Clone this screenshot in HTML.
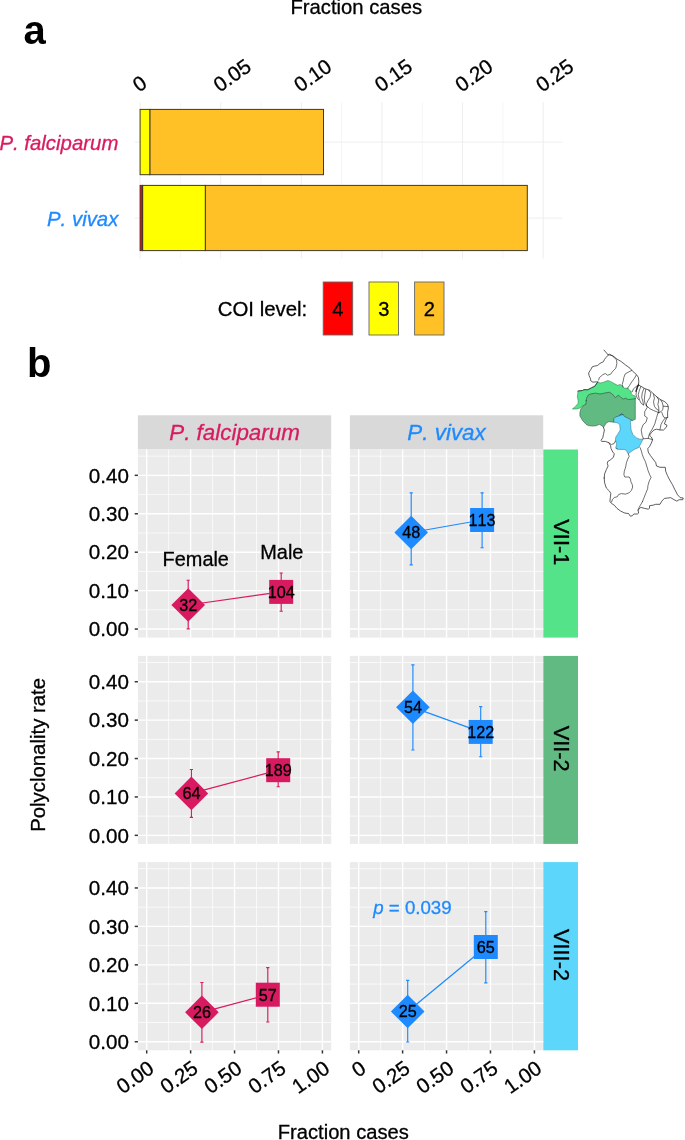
<!DOCTYPE html>
<html><head><meta charset="utf-8"><title>Figure</title>
<style>html,body{margin:0;padding:0;background:#fff}svg{display:block;will-change:transform;opacity:0.9999}text{font-family:"Liberation Sans", sans-serif;fill:#000;font-kerning:none;stroke:#000;stroke-width:0.3px}</style>
</head><body>
<svg width="685" height="1140" viewBox="0 0 685 1140" font-family='"Liberation Sans", sans-serif'>
<rect width="685" height="1140" fill="#fff"/>
<line x1="140.10" y1="102.3" x2="140.10" y2="258.6" stroke="#ececec" stroke-width="0.9"/>
<line x1="180.41" y1="102.3" x2="180.41" y2="258.6" stroke="#ececec" stroke-width="0.5"/>
<line x1="220.72" y1="102.3" x2="220.72" y2="258.6" stroke="#ececec" stroke-width="0.9"/>
<line x1="261.03" y1="102.3" x2="261.03" y2="258.6" stroke="#ececec" stroke-width="0.5"/>
<line x1="301.34" y1="102.3" x2="301.34" y2="258.6" stroke="#ececec" stroke-width="0.9"/>
<line x1="341.65" y1="102.3" x2="341.65" y2="258.6" stroke="#ececec" stroke-width="0.5"/>
<line x1="381.96" y1="102.3" x2="381.96" y2="258.6" stroke="#ececec" stroke-width="0.9"/>
<line x1="422.27" y1="102.3" x2="422.27" y2="258.6" stroke="#ececec" stroke-width="0.5"/>
<line x1="462.58" y1="102.3" x2="462.58" y2="258.6" stroke="#ececec" stroke-width="0.9"/>
<line x1="502.89" y1="102.3" x2="502.89" y2="258.6" stroke="#ececec" stroke-width="0.5"/>
<line x1="543.20" y1="102.3" x2="543.20" y2="258.6" stroke="#ececec" stroke-width="0.9"/>
<line x1="134.5" y1="142.1" x2="562.6" y2="142.1" stroke="#ececec" stroke-width="0.9"/>
<line x1="134.5" y1="218.1" x2="562.6" y2="218.1" stroke="#ececec" stroke-width="0.9"/>
<rect x="149.80" y="109.40" width="173.70" height="65.30" fill="#FFC125" stroke="#40382a" stroke-width="1"/>
<rect x="140.10" y="109.40" width="9.70" height="65.30" fill="#FFFF00" stroke="#40382a" stroke-width="1"/>
<rect x="205.30" y="185.40" width="322.00" height="65.20" fill="#FFC125" stroke="#40382a" stroke-width="1"/>
<rect x="142.60" y="185.40" width="62.70" height="65.20" fill="#FFFF00" stroke="#40382a" stroke-width="1"/>
<rect x="140.10" y="185.40" width="2.50" height="65.20" fill="#FF0000" stroke="#40382a" stroke-width="1"/>
<text x="356.3" y="13.7" text-anchor="middle" font-size="20.26">Fraction cases</text>
<text x="118.4" y="150" text-anchor="end" font-size="20.4" font-style="italic" style="fill:#D81B60;stroke:#D81B60">P. falciparum</text>
<text x="118.4" y="225.7" text-anchor="end" font-size="20.4" font-style="italic" style="fill:#1E8AFF;stroke:#1E8AFF">P. vivax</text>
<text transform="translate(139.10,92.7) rotate(-35)" font-size="20.6">0</text>
<text transform="translate(219.72,92.7) rotate(-35)" font-size="20.6">0.05</text>
<text transform="translate(300.34,92.7) rotate(-35)" font-size="20.6">0.10</text>
<text transform="translate(380.96,92.7) rotate(-35)" font-size="20.6">0.15</text>
<text transform="translate(461.58,92.7) rotate(-35)" font-size="20.6">0.20</text>
<text transform="translate(542.20,92.7) rotate(-35)" font-size="20.6">0.25</text>
<text x="307.3" y="316.3" text-anchor="end" font-size="20.4">COI level:</text>
<rect x="323.2" y="282" width="29.50" height="53" fill="#FF0000" stroke="#666" stroke-width="0.9"/>
<text x="337.95" y="315.9" text-anchor="middle" font-size="20.1">4</text>
<rect x="369" y="282" width="29.50" height="53" fill="#FFFF00" stroke="#666" stroke-width="0.9"/>
<text x="383.75" y="315.9" text-anchor="middle" font-size="20.1">3</text>
<rect x="414.6" y="282" width="29.40" height="53" fill="#FFC125" stroke="#666" stroke-width="0.9"/>
<text x="429.30" y="315.9" text-anchor="middle" font-size="20.1">2</text>
<text x="23.5" y="43.5" font-size="40" font-weight="bold" style="stroke:none">a</text>
<text x="26.9" y="377.2" font-size="40" font-weight="bold" style="stroke:none">b</text>
<rect x="137.9" y="415.3" width="193.30" height="34.20" fill="#d9d9d9"/>
<rect x="349.9" y="415.3" width="193.30" height="34.20" fill="#d9d9d9"/>
<text x="234.55" y="439.8" text-anchor="middle" font-size="22.4" font-style="italic" style="fill:#D81B60;stroke:#D81B60">P. falciparum</text>
<text x="446.55" y="439.8" text-anchor="middle" font-size="22.4" font-style="italic" style="fill:#1E8AFF;stroke:#1E8AFF">P. vivax</text>
<rect x="543.2" y="449.5" width="34.80" height="188.10" fill="#55E38A"/>
<text transform="translate(554.40,542.35) rotate(90)" text-anchor="middle" font-size="21.8">VII-1</text>
<rect x="543.2" y="655.9" width="34.80" height="188.00" fill="#62BA83"/>
<text transform="translate(554.40,748.70) rotate(90)" text-anchor="middle" font-size="21.8">VII-2</text>
<rect x="543.2" y="862.1" width="34.80" height="188.20" fill="#5CD6FA"/>
<text transform="translate(554.40,955.00) rotate(90)" text-anchor="middle" font-size="21.8">VIII-2</text>
<rect x="137.9" y="449.5" width="193.30" height="188.10" fill="#ebebeb"/>
<line x1="168.65" y1="449.5" x2="168.65" y2="637.6" stroke="#fff" stroke-width="0.7"/>
<line x1="212.58" y1="449.5" x2="212.58" y2="637.6" stroke="#fff" stroke-width="0.7"/>
<line x1="256.52" y1="449.5" x2="256.52" y2="637.6" stroke="#fff" stroke-width="0.7"/>
<line x1="300.45" y1="449.5" x2="300.45" y2="637.6" stroke="#fff" stroke-width="0.7"/>
<line x1="137.9" y1="609.84" x2="331.2" y2="609.84" stroke="#fff" stroke-width="0.7"/>
<line x1="137.9" y1="571.41" x2="331.2" y2="571.41" stroke="#fff" stroke-width="0.7"/>
<line x1="137.9" y1="532.98" x2="331.2" y2="532.98" stroke="#fff" stroke-width="0.7"/>
<line x1="137.9" y1="494.56" x2="331.2" y2="494.56" stroke="#fff" stroke-width="0.7"/>
<line x1="137.9" y1="456.13" x2="331.2" y2="456.13" stroke="#fff" stroke-width="0.7"/>
<line x1="146.69" y1="449.5" x2="146.69" y2="637.6" stroke="#fff" stroke-width="1.4"/>
<line x1="190.62" y1="449.5" x2="190.62" y2="637.6" stroke="#fff" stroke-width="1.4"/>
<line x1="234.55" y1="449.5" x2="234.55" y2="637.6" stroke="#fff" stroke-width="1.4"/>
<line x1="278.48" y1="449.5" x2="278.48" y2="637.6" stroke="#fff" stroke-width="1.4"/>
<line x1="322.41" y1="449.5" x2="322.41" y2="637.6" stroke="#fff" stroke-width="1.4"/>
<line x1="137.9" y1="629.05" x2="331.2" y2="629.05" stroke="#fff" stroke-width="1.4"/>
<line x1="137.9" y1="590.62" x2="331.2" y2="590.62" stroke="#fff" stroke-width="1.4"/>
<line x1="137.9" y1="552.20" x2="331.2" y2="552.20" stroke="#fff" stroke-width="1.4"/>
<line x1="137.9" y1="513.77" x2="331.2" y2="513.77" stroke="#fff" stroke-width="1.4"/>
<line x1="137.9" y1="475.34" x2="331.2" y2="475.34" stroke="#fff" stroke-width="1.4"/>
<rect x="349.9" y="449.5" width="193.30" height="188.10" fill="#ebebeb"/>
<line x1="380.65" y1="449.5" x2="380.65" y2="637.6" stroke="#fff" stroke-width="0.7"/>
<line x1="424.58" y1="449.5" x2="424.58" y2="637.6" stroke="#fff" stroke-width="0.7"/>
<line x1="468.52" y1="449.5" x2="468.52" y2="637.6" stroke="#fff" stroke-width="0.7"/>
<line x1="512.45" y1="449.5" x2="512.45" y2="637.6" stroke="#fff" stroke-width="0.7"/>
<line x1="349.9" y1="609.84" x2="543.2" y2="609.84" stroke="#fff" stroke-width="0.7"/>
<line x1="349.9" y1="571.41" x2="543.2" y2="571.41" stroke="#fff" stroke-width="0.7"/>
<line x1="349.9" y1="532.98" x2="543.2" y2="532.98" stroke="#fff" stroke-width="0.7"/>
<line x1="349.9" y1="494.56" x2="543.2" y2="494.56" stroke="#fff" stroke-width="0.7"/>
<line x1="349.9" y1="456.13" x2="543.2" y2="456.13" stroke="#fff" stroke-width="0.7"/>
<line x1="358.69" y1="449.5" x2="358.69" y2="637.6" stroke="#fff" stroke-width="1.4"/>
<line x1="402.62" y1="449.5" x2="402.62" y2="637.6" stroke="#fff" stroke-width="1.4"/>
<line x1="446.55" y1="449.5" x2="446.55" y2="637.6" stroke="#fff" stroke-width="1.4"/>
<line x1="490.48" y1="449.5" x2="490.48" y2="637.6" stroke="#fff" stroke-width="1.4"/>
<line x1="534.41" y1="449.5" x2="534.41" y2="637.6" stroke="#fff" stroke-width="1.4"/>
<line x1="349.9" y1="629.05" x2="543.2" y2="629.05" stroke="#fff" stroke-width="1.4"/>
<line x1="349.9" y1="590.62" x2="543.2" y2="590.62" stroke="#fff" stroke-width="1.4"/>
<line x1="349.9" y1="552.20" x2="543.2" y2="552.20" stroke="#fff" stroke-width="1.4"/>
<line x1="349.9" y1="513.77" x2="543.2" y2="513.77" stroke="#fff" stroke-width="1.4"/>
<line x1="349.9" y1="475.34" x2="543.2" y2="475.34" stroke="#fff" stroke-width="1.4"/>
<line x1="134.70" y1="629.05" x2="137.9" y2="629.05" stroke="#333" stroke-width="1.5"/>
<text x="128.9" y="636.30" text-anchor="end" font-size="20.6">0.00</text>
<line x1="134.70" y1="590.62" x2="137.9" y2="590.62" stroke="#333" stroke-width="1.5"/>
<text x="128.9" y="597.87" text-anchor="end" font-size="20.6">0.10</text>
<line x1="134.70" y1="552.20" x2="137.9" y2="552.20" stroke="#333" stroke-width="1.5"/>
<text x="128.9" y="559.45" text-anchor="end" font-size="20.6">0.20</text>
<line x1="134.70" y1="513.77" x2="137.9" y2="513.77" stroke="#333" stroke-width="1.5"/>
<text x="128.9" y="521.02" text-anchor="end" font-size="20.6">0.30</text>
<line x1="134.70" y1="475.34" x2="137.9" y2="475.34" stroke="#333" stroke-width="1.5"/>
<text x="128.9" y="482.59" text-anchor="end" font-size="20.6">0.40</text>
<rect x="137.9" y="655.9" width="193.30" height="188.00" fill="#ebebeb"/>
<line x1="168.65" y1="655.9" x2="168.65" y2="843.9" stroke="#fff" stroke-width="0.7"/>
<line x1="212.58" y1="655.9" x2="212.58" y2="843.9" stroke="#fff" stroke-width="0.7"/>
<line x1="256.52" y1="655.9" x2="256.52" y2="843.9" stroke="#fff" stroke-width="0.7"/>
<line x1="300.45" y1="655.9" x2="300.45" y2="843.9" stroke="#fff" stroke-width="0.7"/>
<line x1="137.9" y1="816.15" x2="331.2" y2="816.15" stroke="#fff" stroke-width="0.7"/>
<line x1="137.9" y1="777.74" x2="331.2" y2="777.74" stroke="#fff" stroke-width="0.7"/>
<line x1="137.9" y1="739.34" x2="331.2" y2="739.34" stroke="#fff" stroke-width="0.7"/>
<line x1="137.9" y1="700.93" x2="331.2" y2="700.93" stroke="#fff" stroke-width="0.7"/>
<line x1="137.9" y1="662.53" x2="331.2" y2="662.53" stroke="#fff" stroke-width="0.7"/>
<line x1="146.69" y1="655.9" x2="146.69" y2="843.9" stroke="#fff" stroke-width="1.4"/>
<line x1="190.62" y1="655.9" x2="190.62" y2="843.9" stroke="#fff" stroke-width="1.4"/>
<line x1="234.55" y1="655.9" x2="234.55" y2="843.9" stroke="#fff" stroke-width="1.4"/>
<line x1="278.48" y1="655.9" x2="278.48" y2="843.9" stroke="#fff" stroke-width="1.4"/>
<line x1="322.41" y1="655.9" x2="322.41" y2="843.9" stroke="#fff" stroke-width="1.4"/>
<line x1="137.9" y1="835.35" x2="331.2" y2="835.35" stroke="#fff" stroke-width="1.4"/>
<line x1="137.9" y1="796.95" x2="331.2" y2="796.95" stroke="#fff" stroke-width="1.4"/>
<line x1="137.9" y1="758.54" x2="331.2" y2="758.54" stroke="#fff" stroke-width="1.4"/>
<line x1="137.9" y1="720.13" x2="331.2" y2="720.13" stroke="#fff" stroke-width="1.4"/>
<line x1="137.9" y1="681.73" x2="331.2" y2="681.73" stroke="#fff" stroke-width="1.4"/>
<rect x="349.9" y="655.9" width="193.30" height="188.00" fill="#ebebeb"/>
<line x1="380.65" y1="655.9" x2="380.65" y2="843.9" stroke="#fff" stroke-width="0.7"/>
<line x1="424.58" y1="655.9" x2="424.58" y2="843.9" stroke="#fff" stroke-width="0.7"/>
<line x1="468.52" y1="655.9" x2="468.52" y2="843.9" stroke="#fff" stroke-width="0.7"/>
<line x1="512.45" y1="655.9" x2="512.45" y2="843.9" stroke="#fff" stroke-width="0.7"/>
<line x1="349.9" y1="816.15" x2="543.2" y2="816.15" stroke="#fff" stroke-width="0.7"/>
<line x1="349.9" y1="777.74" x2="543.2" y2="777.74" stroke="#fff" stroke-width="0.7"/>
<line x1="349.9" y1="739.34" x2="543.2" y2="739.34" stroke="#fff" stroke-width="0.7"/>
<line x1="349.9" y1="700.93" x2="543.2" y2="700.93" stroke="#fff" stroke-width="0.7"/>
<line x1="349.9" y1="662.53" x2="543.2" y2="662.53" stroke="#fff" stroke-width="0.7"/>
<line x1="358.69" y1="655.9" x2="358.69" y2="843.9" stroke="#fff" stroke-width="1.4"/>
<line x1="402.62" y1="655.9" x2="402.62" y2="843.9" stroke="#fff" stroke-width="1.4"/>
<line x1="446.55" y1="655.9" x2="446.55" y2="843.9" stroke="#fff" stroke-width="1.4"/>
<line x1="490.48" y1="655.9" x2="490.48" y2="843.9" stroke="#fff" stroke-width="1.4"/>
<line x1="534.41" y1="655.9" x2="534.41" y2="843.9" stroke="#fff" stroke-width="1.4"/>
<line x1="349.9" y1="835.35" x2="543.2" y2="835.35" stroke="#fff" stroke-width="1.4"/>
<line x1="349.9" y1="796.95" x2="543.2" y2="796.95" stroke="#fff" stroke-width="1.4"/>
<line x1="349.9" y1="758.54" x2="543.2" y2="758.54" stroke="#fff" stroke-width="1.4"/>
<line x1="349.9" y1="720.13" x2="543.2" y2="720.13" stroke="#fff" stroke-width="1.4"/>
<line x1="349.9" y1="681.73" x2="543.2" y2="681.73" stroke="#fff" stroke-width="1.4"/>
<line x1="134.70" y1="835.35" x2="137.9" y2="835.35" stroke="#333" stroke-width="1.5"/>
<text x="128.9" y="842.60" text-anchor="end" font-size="20.6">0.00</text>
<line x1="134.70" y1="796.95" x2="137.9" y2="796.95" stroke="#333" stroke-width="1.5"/>
<text x="128.9" y="804.20" text-anchor="end" font-size="20.6">0.10</text>
<line x1="134.70" y1="758.54" x2="137.9" y2="758.54" stroke="#333" stroke-width="1.5"/>
<text x="128.9" y="765.79" text-anchor="end" font-size="20.6">0.20</text>
<line x1="134.70" y1="720.13" x2="137.9" y2="720.13" stroke="#333" stroke-width="1.5"/>
<text x="128.9" y="727.38" text-anchor="end" font-size="20.6">0.30</text>
<line x1="134.70" y1="681.73" x2="137.9" y2="681.73" stroke="#333" stroke-width="1.5"/>
<text x="128.9" y="688.98" text-anchor="end" font-size="20.6">0.40</text>
<rect x="137.9" y="862.1" width="193.30" height="188.20" fill="#ebebeb"/>
<line x1="168.65" y1="862.1" x2="168.65" y2="1050.3" stroke="#fff" stroke-width="0.7"/>
<line x1="212.58" y1="862.1" x2="212.58" y2="1050.3" stroke="#fff" stroke-width="0.7"/>
<line x1="256.52" y1="862.1" x2="256.52" y2="1050.3" stroke="#fff" stroke-width="0.7"/>
<line x1="300.45" y1="862.1" x2="300.45" y2="1050.3" stroke="#fff" stroke-width="0.7"/>
<line x1="137.9" y1="1022.52" x2="331.2" y2="1022.52" stroke="#fff" stroke-width="0.7"/>
<line x1="137.9" y1="984.07" x2="331.2" y2="984.07" stroke="#fff" stroke-width="0.7"/>
<line x1="137.9" y1="945.63" x2="331.2" y2="945.63" stroke="#fff" stroke-width="0.7"/>
<line x1="137.9" y1="907.18" x2="331.2" y2="907.18" stroke="#fff" stroke-width="0.7"/>
<line x1="137.9" y1="868.73" x2="331.2" y2="868.73" stroke="#fff" stroke-width="0.7"/>
<line x1="146.69" y1="862.1" x2="146.69" y2="1050.3" stroke="#fff" stroke-width="1.4"/>
<line x1="190.62" y1="862.1" x2="190.62" y2="1050.3" stroke="#fff" stroke-width="1.4"/>
<line x1="234.55" y1="862.1" x2="234.55" y2="1050.3" stroke="#fff" stroke-width="1.4"/>
<line x1="278.48" y1="862.1" x2="278.48" y2="1050.3" stroke="#fff" stroke-width="1.4"/>
<line x1="322.41" y1="862.1" x2="322.41" y2="1050.3" stroke="#fff" stroke-width="1.4"/>
<line x1="137.9" y1="1041.75" x2="331.2" y2="1041.75" stroke="#fff" stroke-width="1.4"/>
<line x1="137.9" y1="1003.30" x2="331.2" y2="1003.30" stroke="#fff" stroke-width="1.4"/>
<line x1="137.9" y1="964.85" x2="331.2" y2="964.85" stroke="#fff" stroke-width="1.4"/>
<line x1="137.9" y1="926.40" x2="331.2" y2="926.40" stroke="#fff" stroke-width="1.4"/>
<line x1="137.9" y1="887.96" x2="331.2" y2="887.96" stroke="#fff" stroke-width="1.4"/>
<rect x="349.9" y="862.1" width="193.30" height="188.20" fill="#ebebeb"/>
<line x1="380.65" y1="862.1" x2="380.65" y2="1050.3" stroke="#fff" stroke-width="0.7"/>
<line x1="424.58" y1="862.1" x2="424.58" y2="1050.3" stroke="#fff" stroke-width="0.7"/>
<line x1="468.52" y1="862.1" x2="468.52" y2="1050.3" stroke="#fff" stroke-width="0.7"/>
<line x1="512.45" y1="862.1" x2="512.45" y2="1050.3" stroke="#fff" stroke-width="0.7"/>
<line x1="349.9" y1="1022.52" x2="543.2" y2="1022.52" stroke="#fff" stroke-width="0.7"/>
<line x1="349.9" y1="984.07" x2="543.2" y2="984.07" stroke="#fff" stroke-width="0.7"/>
<line x1="349.9" y1="945.63" x2="543.2" y2="945.63" stroke="#fff" stroke-width="0.7"/>
<line x1="349.9" y1="907.18" x2="543.2" y2="907.18" stroke="#fff" stroke-width="0.7"/>
<line x1="349.9" y1="868.73" x2="543.2" y2="868.73" stroke="#fff" stroke-width="0.7"/>
<line x1="358.69" y1="862.1" x2="358.69" y2="1050.3" stroke="#fff" stroke-width="1.4"/>
<line x1="402.62" y1="862.1" x2="402.62" y2="1050.3" stroke="#fff" stroke-width="1.4"/>
<line x1="446.55" y1="862.1" x2="446.55" y2="1050.3" stroke="#fff" stroke-width="1.4"/>
<line x1="490.48" y1="862.1" x2="490.48" y2="1050.3" stroke="#fff" stroke-width="1.4"/>
<line x1="534.41" y1="862.1" x2="534.41" y2="1050.3" stroke="#fff" stroke-width="1.4"/>
<line x1="349.9" y1="1041.75" x2="543.2" y2="1041.75" stroke="#fff" stroke-width="1.4"/>
<line x1="349.9" y1="1003.30" x2="543.2" y2="1003.30" stroke="#fff" stroke-width="1.4"/>
<line x1="349.9" y1="964.85" x2="543.2" y2="964.85" stroke="#fff" stroke-width="1.4"/>
<line x1="349.9" y1="926.40" x2="543.2" y2="926.40" stroke="#fff" stroke-width="1.4"/>
<line x1="349.9" y1="887.96" x2="543.2" y2="887.96" stroke="#fff" stroke-width="1.4"/>
<line x1="134.70" y1="1041.75" x2="137.9" y2="1041.75" stroke="#333" stroke-width="1.5"/>
<text x="128.9" y="1049.00" text-anchor="end" font-size="20.6">0.00</text>
<line x1="134.70" y1="1003.30" x2="137.9" y2="1003.30" stroke="#333" stroke-width="1.5"/>
<text x="128.9" y="1010.55" text-anchor="end" font-size="20.6">0.10</text>
<line x1="134.70" y1="964.85" x2="137.9" y2="964.85" stroke="#333" stroke-width="1.5"/>
<text x="128.9" y="972.10" text-anchor="end" font-size="20.6">0.20</text>
<line x1="134.70" y1="926.40" x2="137.9" y2="926.40" stroke="#333" stroke-width="1.5"/>
<text x="128.9" y="933.65" text-anchor="end" font-size="20.6">0.30</text>
<line x1="134.70" y1="887.96" x2="137.9" y2="887.96" stroke="#333" stroke-width="1.5"/>
<text x="128.9" y="895.21" text-anchor="end" font-size="20.6">0.40</text>
<line x1="146.69" y1="1050.3" x2="146.69" y2="1053.50" stroke="#333" stroke-width="1.5"/>
<text transform="translate(155.49,1071.5) rotate(-35)" text-anchor="end" font-size="20.6">0.00</text>
<line x1="190.62" y1="1050.3" x2="190.62" y2="1053.50" stroke="#333" stroke-width="1.5"/>
<text transform="translate(199.42,1071.5) rotate(-35)" text-anchor="end" font-size="20.6">0.25</text>
<line x1="234.55" y1="1050.3" x2="234.55" y2="1053.50" stroke="#333" stroke-width="1.5"/>
<text transform="translate(243.35,1071.5) rotate(-35)" text-anchor="end" font-size="20.6">0.50</text>
<line x1="278.48" y1="1050.3" x2="278.48" y2="1053.50" stroke="#333" stroke-width="1.5"/>
<text transform="translate(287.28,1071.5) rotate(-35)" text-anchor="end" font-size="20.6">0.75</text>
<line x1="322.41" y1="1050.3" x2="322.41" y2="1053.50" stroke="#333" stroke-width="1.5"/>
<text transform="translate(331.21,1071.5) rotate(-35)" text-anchor="end" font-size="20.6">1.00</text>
<line x1="358.69" y1="1050.3" x2="358.69" y2="1053.50" stroke="#333" stroke-width="1.5"/>
<text transform="translate(367.49,1071.5) rotate(-35)" text-anchor="end" font-size="20.6">0</text>
<line x1="402.62" y1="1050.3" x2="402.62" y2="1053.50" stroke="#333" stroke-width="1.5"/>
<text transform="translate(411.42,1071.5) rotate(-35)" text-anchor="end" font-size="20.6">0.25</text>
<line x1="446.55" y1="1050.3" x2="446.55" y2="1053.50" stroke="#333" stroke-width="1.5"/>
<text transform="translate(455.35,1071.5) rotate(-35)" text-anchor="end" font-size="20.6">0.50</text>
<line x1="490.48" y1="1050.3" x2="490.48" y2="1053.50" stroke="#333" stroke-width="1.5"/>
<text transform="translate(499.28,1071.5) rotate(-35)" text-anchor="end" font-size="20.6">0.75</text>
<line x1="534.41" y1="1050.3" x2="534.41" y2="1053.50" stroke="#333" stroke-width="1.5"/>
<text transform="translate(543.21,1071.5) rotate(-35)" text-anchor="end" font-size="20.6">1.00</text>
<text x="343.3" y="1138.8" text-anchor="middle" font-size="20.15">Fraction cases</text>
<text transform="translate(44.9,754.9) rotate(-90)" text-anchor="middle" font-size="20.38">Polyclonality rate</text>
<path d="M188.20 580.20V628.90M186.60 580.20H189.80M186.60 628.90H189.80" stroke="#D81B60" stroke-width="1.15" fill="none"/>
<path d="M281.20 573.00V611.20M279.60 573.00H282.80M279.60 611.20H282.80" stroke="#D81B60" stroke-width="1.15" fill="none"/>
<line x1="188.20" y1="605.00" x2="281.20" y2="591.90" stroke="#D81B60" stroke-width="1.25"/>
<path d="M188.20 588.20L205.00 605.00L188.20 621.80L171.40 605.00Z" fill="#D81B60"/>
<rect x="269.20" y="579.90" width="24.0" height="24.0" fill="#D81B60"/>
<text x="188.20" y="610.80" text-anchor="middle" font-size="16.2">32</text>
<text x="281.20" y="597.70" text-anchor="middle" font-size="16.2">104</text>
<path d="M411.20 492.80V564.80M409.60 492.80H412.80M409.60 564.80H412.80" stroke="#1E8AFF" stroke-width="1.15" fill="none"/>
<path d="M482.10 492.80V547.70M480.50 492.80H483.70M480.50 547.70H483.70" stroke="#1E8AFF" stroke-width="1.15" fill="none"/>
<line x1="411.20" y1="532.50" x2="482.10" y2="520.00" stroke="#1E8AFF" stroke-width="1.25"/>
<path d="M411.20 515.70L428.00 532.50L411.20 549.30L394.40 532.50Z" fill="#1E8AFF"/>
<rect x="470.10" y="508.00" width="24.0" height="24.0" fill="#1E8AFF"/>
<text x="411.20" y="538.30" text-anchor="middle" font-size="16.2">48</text>
<text x="482.10" y="525.80" text-anchor="middle" font-size="16.2">113</text>
<path d="M191.40 769.50V817.40M189.80 769.50H193.00M189.80 817.40H193.00" stroke="#D81B60" stroke-width="1.15" fill="none"/>
<path d="M278.20 751.90V786.70M276.60 751.90H279.80M276.60 786.70H279.80" stroke="#D81B60" stroke-width="1.15" fill="none"/>
<line x1="191.40" y1="793.40" x2="278.20" y2="770.20" stroke="#D81B60" stroke-width="1.25"/>
<path d="M191.40 776.60L208.20 793.40L191.40 810.20L174.60 793.40Z" fill="#D81B60"/>
<rect x="266.20" y="758.20" width="24.0" height="24.0" fill="#D81B60"/>
<text x="191.40" y="799.20" text-anchor="middle" font-size="16.2">64</text>
<text x="278.20" y="776.00" text-anchor="middle" font-size="16.2">189</text>
<path d="M412.90 664.90V750.00M411.30 664.90H414.50M411.30 750.00H414.50" stroke="#1E8AFF" stroke-width="1.15" fill="none"/>
<path d="M480.70 706.60V756.70M479.10 706.60H482.30M479.10 756.70H482.30" stroke="#1E8AFF" stroke-width="1.15" fill="none"/>
<line x1="412.90" y1="707.30" x2="480.70" y2="731.90" stroke="#1E8AFF" stroke-width="1.25"/>
<path d="M412.90 690.50L429.70 707.30L412.90 724.10L396.10 707.30Z" fill="#1E8AFF"/>
<rect x="468.70" y="719.90" width="24.0" height="24.0" fill="#1E8AFF"/>
<text x="412.90" y="713.10" text-anchor="middle" font-size="16.2">54</text>
<text x="480.70" y="737.70" text-anchor="middle" font-size="16.2">122</text>
<path d="M201.90 982.50V1042.10M200.30 982.50H203.50M200.30 1042.10H203.50" stroke="#D81B60" stroke-width="1.15" fill="none"/>
<path d="M267.80 967.60V1022.00M266.20 967.60H269.40M266.20 1022.00H269.40" stroke="#D81B60" stroke-width="1.15" fill="none"/>
<line x1="201.90" y1="1012.30" x2="267.80" y2="994.70" stroke="#D81B60" stroke-width="1.25"/>
<path d="M201.90 995.50L218.70 1012.30L201.90 1029.10L185.10 1012.30Z" fill="#D81B60"/>
<rect x="255.80" y="982.70" width="24.0" height="24.0" fill="#D81B60"/>
<text x="201.90" y="1018.10" text-anchor="middle" font-size="16.2">26</text>
<text x="267.80" y="1000.50" text-anchor="middle" font-size="16.2">57</text>
<path d="M407.70 980.40V1042.00M406.10 980.40H409.30M406.10 1042.00H409.30" stroke="#1E8AFF" stroke-width="1.15" fill="none"/>
<path d="M485.80 911.60V982.90M484.20 911.60H487.40M484.20 982.90H487.40" stroke="#1E8AFF" stroke-width="1.15" fill="none"/>
<line x1="407.70" y1="1011.50" x2="485.80" y2="947.00" stroke="#1E8AFF" stroke-width="1.25"/>
<path d="M407.70 994.70L424.50 1011.50L407.70 1028.30L390.90 1011.50Z" fill="#1E8AFF"/>
<rect x="473.80" y="935.00" width="24.0" height="24.0" fill="#1E8AFF"/>
<text x="407.70" y="1017.30" text-anchor="middle" font-size="16.2">25</text>
<text x="485.80" y="952.80" text-anchor="middle" font-size="16.2">65</text>
<text x="162.6" y="565.6" font-size="19.9">Female</text>
<text x="260.3" y="558.6" font-size="19.9">Male</text>
<text x="373.2" y="914.4" font-size="18.7" style="fill:#1E8AFF;stroke:#1E8AFF"><tspan font-style="italic">p</tspan> = 0.039</text>
<g stroke-linejoin="round" stroke-linecap="round">
<path d="M578.1 391.0L582.5 390.5L583.8 389.7L587.8 389.7L591.3 387.9L594.8 386.2L597.8 381.8L600.0 383.1L603.5 382.2L607.9 380.5L610.5 381.4L614.1 383.5L617.6 385.3L620.2 384.4L622.8 386.6L624.6 388.2L628.1 388.2L629.5 390.4L631.2 391.3L631.2 393.9L633.0 395.2L635.3 396.1L635.3 398.7L635.3 398.7L632.5 399.2L628.1 399.6L625.5 398.3L623.3 399.2L621.1 397.8L618.5 395.2L615.4 397.6L612.3 394.1L609.7 392.3L604.4 393.2L600.0 394.1L595.7 393.2L591.3 393.9L588.6 394.9L586.9 397.6L586.0 401.1L586.5 400.3L586.0 404.2L582.5 405.9L579.9 408.1L576.4 409.0L572.4 409.0L575.5 406.4L578.1 403.3L578.1 400.3L577.3 396.8L577.7 394.1Z" fill="#55E38A" stroke="#1f5d38" stroke-width="0.45"/>
<path d="M635.3 398.7L632.5 399.2L628.1 399.6L625.5 398.3L623.3 399.2L621.1 397.8L618.5 395.2L615.4 397.6L612.3 394.1L609.7 392.3L604.4 393.2L600.0 394.1L595.7 393.2L591.3 393.9L588.6 394.9L586.9 397.6L586.0 401.1L586.5 400.3L586.0 404.2L582.5 406.4L580.8 409.0L579.9 412.5L579.9 416.0L582.5 420.4L586.0 424.3L588.6 425.7L593.0 426.1L596.5 425.7L599.2 424.3L601.8 425.7L603.5 427.4L606.2 423.0L608.8 421.7L614.1 422.2L614.1 418.6L615.8 416.9L619.3 416.0L621.1 414.3L623.2 414.7L619.4 415.4L621.1 414.1L622.9 414.5L624.6 416.7L627.3 418.0L629.9 419.3L632.5 420.6L635.3 419.3L635.3 398.7Z" fill="#62BA83" stroke="#1f4a30" stroke-width="0.5"/>
<path d="M614.1 422.2L617.6 423.0L619.7 424.8L620.2 430.0L617.6 434.4L615.8 437.0L615.4 440.5L616.7 444.1L615.8 447.6L617.6 449.3L615.6 448.1L618.6 449.4L623.0 449.4L625.7 449.8L628.3 453.8L631.8 451.1L635.3 448.9L638.8 447.6L643.0 439.2L639.9 439.2L636.4 437.9L632.9 434.4L631.1 430.0L630.7 424.8L630.3 420.8L632.5 420.6L629.9 419.3L627.3 418.0L624.6 416.7L622.9 414.5L621.1 414.1L619.4 415.4L623.2 414.7L621.1 414.3L619.3 416.0L615.8 416.9L614.1 418.6Z" fill="#5CD6FA" stroke="#2a5a6a" stroke-width="0.45"/>
<path d="M604.0 350.1L608.4 355.1L608.1 354.6L612.5 355.5L616.9 359.0L621.3 361.6L625.7 365.1L630.0 368.2L632.7 371.3L636.2 374.3L638.4 377.4L638.8 381.8L638.4 384.9L640.4 386.0L644.8 388.6L650.0 390.4L653.5 393.9L657.0 397.0L660.5 399.6L664.9 401.8L667.6 404.4L668.4 407.9L667.6 412.3L667.6 416.7L665.8 420.2L664.4 423.9L667.0 425.2L666.2 427.4L663.5 430.0L660.0 430.0L656.5 429.2L653.9 430.0L651.3 432.7L649.5 435.3L651.3 437.0L652.6 439.7L651.3 443.2L649.5 446.7L647.8 448.5L648.2 452.0L650.4 455.5L653.0 459.0L655.7 462.5L656.5 466.0L660.0 467.3L665.3 467.3L665.7 471.3L667.5 475.7L669.7 480.0L672.3 484.4L674.9 489.7L677.6 494.9L680.2 497.6L683.2 498.0L682.8 499.7L679.3 499.7L676.7 501.1L674.1 499.7L670.5 497.6L667.9 498.0L664.4 498.4L661.8 501.1L660.0 504.3L655.7 504.3L653.0 505.2L649.5 505.7L649.5 508.3L648.2 509.2L644.3 508.3L640.8 507.4L638.1 510.0L638.6 513.1L637.3 514.0L633.8 514.0L632.4 515.7L630.3 516.2L628.5 513.5L625.0 513.1L623.9 512.7L620.4 510.9L616.9 508.3L614.3 505.2L611.6 503.5L609.9 501.3L610.3 497.8L610.8 493.4L609.5 491.2L606.4 488.1L604.6 482.9L604.2 477.6L604.2 478.3L604.6 473.9L606.4 469.5L608.1 466.0L607.3 463.4L607.7 461.6L610.3 459.9L613.4 457.3L614.3 453.8L612.7 451.9L611.0 448.4L610.5 445.4L608.8 442.7L605.3 441.4L601.8 441.4L600.9 440.5L602.7 437.9L603.5 434.4L604.4 430.0L603.5 427.4" fill="none" stroke="#1a1a1a" stroke-width="0.7"/>
<path d="M578.1 391.0L582.5 390.5L583.8 389.7L587.8 389.7L591.3 387.9L594.8 386.2L597.8 381.8L596.5 381.8L593.0 382.2L590.8 380.9L590.4 378.3L589.1 375.7L588.6 373.0L590.8 369.5L592.2 366.9L594.8 366.0L597.4 365.6L600.0 363.4L603.5 361.6L604.4 359.5L606.2 357.3L608.4 355.1" fill="none" stroke="#1a1a1a" stroke-width="0.7"/>
<path d="M598.7 380.0L599.2 377.8L602.7 374.8L605.3 373.5L607.5 375.2L610.5 374.3L612.7 371.3L615.8 368.2L616.9 363.4L616.5 359.9L614.1 357.3L609.7 354.2M631.8 370.4L628.3 372.2L625.2 373.9L623.9 377.4L623.0 381.8L622.2 384.4L623.0 387.0M636.2 375.2L634.4 378.3L631.8 381.8L629.6 385.3L627.4 388.4M638.5 384.4L636.2 386.6L633.5 388.8L632.2 391.9M638.5 385.1L636.5 390.4L636.0 394.8L637.3 398.3L638.6 399.6M640.8 386.5L639.1 391.3L638.2 394.8L639.5 400.0L641.3 403.5L643.5 404.9M643.9 388.6L642.2 393.0L641.7 397.4L643.0 401.8L643.5 404.9M645.7 389.5L644.8 394.8L644.3 400.0L645.2 404.4L646.5 405.7M648.7 390.4L650.9 393.0L650.0 397.4L647.8 400.9L646.5 403.5L646.5 405.7M653.5 394.3L654.4 398.3L653.5 401.8L654.4 406.2L656.2 408.8L658.8 410.5M657.0 397.0L658.8 400.0L657.9 404.4L658.8 407.9L658.8 410.5L658.8 412.7M660.5 399.6L662.3 402.7L663.2 406.2L662.7 409.7L661.4 411.4L658.8 412.7M663.2 406.2L668.0 406.6M646.5 405.7L650.0 408.8L653.5 410.5L657.0 411.9L658.8 412.7M665.3 417.9L667.9 417.3M646.5 405.7L647.3 407.3L644.7 411.6L644.7 416.0L647.3 417.8L646.0 422.2L643.0 424.8L641.2 430.0L642.1 435.3L643.4 438.4M658.3 412.1L656.5 417.8L654.8 423.9L652.2 429.2L649.5 433.5L648.2 438.4M661.8 412.5L663.5 416.9L665.3 417.9L662.7 421.3L660.9 424.8L660.0 429.6M643.0 438.8L648.2 438.4L652.6 439.7M608.8 442.7L611.4 444.5L614.1 443.6L615.4 441.0M628.3 453.8L629.2 456.4L627.8 459.0L626.5 462.5L625.7 466.9L624.3 471.3L623.9 474.8L624.8 477.0L629.2 477.0L630.5 479.2L630.9 481.8L632.2 484.4L632.7 487.0L631.4 490.5L629.2 492.7L625.7 494.1L621.3 493.6L618.6 494.5L617.3 496.7L614.3 497.6L612.5 499.3L611.6 501.9L611.2 502.2M640.1 447.6L641.4 451.1L642.3 454.6L643.6 458.1L645.4 461.6L646.7 466.0L648.0 470.4L649.7 474.8L651.1 477.4L649.3 480.9L648.0 485.3L647.6 488.8L645.8 493.2L644.1 497.6L642.3 501.9L642.7 501.3L640.1 505.7L637.9 510.0" fill="none" stroke="#1a1a1a" stroke-width="0.62"/>
<path d="M638.5 385.0L637.3 386.9L636.7 389.1L636.0 391.3" fill="none" stroke="#222" stroke-width="1.3"/>
</g>
</svg>
</body></html>
